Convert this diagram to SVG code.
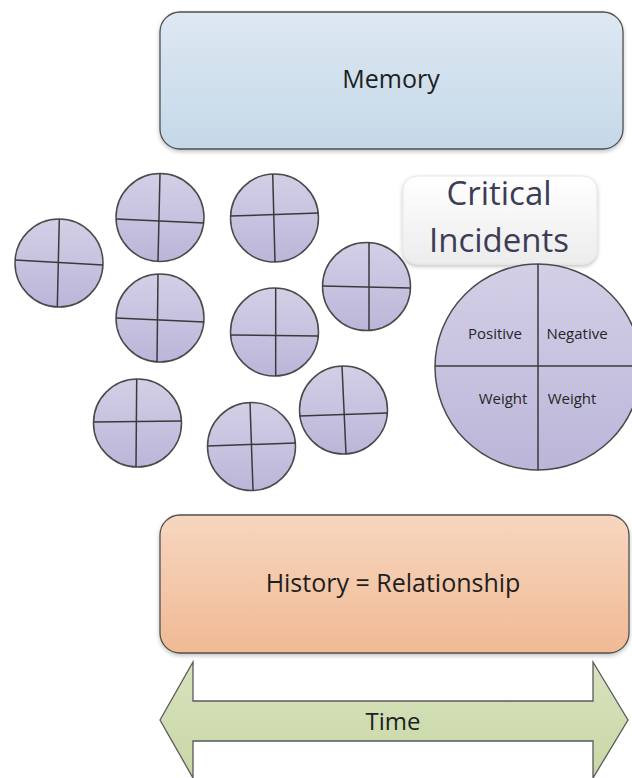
<svg xmlns="http://www.w3.org/2000/svg" width="632" height="778" viewBox="0 0 632 778">
<defs>
<linearGradient id="gBlue" x1="0" y1="0" x2="0" y2="1"><stop offset="0" stop-color="#dde8f2"/><stop offset="1" stop-color="#c5d8e8"/></linearGradient>
<linearGradient id="gPeach" x1="0" y1="0" x2="0" y2="1"><stop offset="0" stop-color="#f7d6bf"/><stop offset="1" stop-color="#f0ba94"/></linearGradient>
<linearGradient id="gGreen" x1="0" y1="0" x2="0" y2="1"><stop offset="0" stop-color="#d8e2bd"/><stop offset="1" stop-color="#c8d7a6"/></linearGradient>
<linearGradient id="gLav" x1="0" y1="0" x2="0" y2="1"><stop offset="0" stop-color="#d3cfe6"/><stop offset="1" stop-color="#bbb6d9"/></linearGradient>
<linearGradient id="gWhite" x1="0" y1="0" x2="0" y2="1"><stop offset="0" stop-color="#ffffff"/><stop offset="1" stop-color="#ececec"/></linearGradient>
<filter id="sh" x="-10%" y="-10%" width="120%" height="130%"><feGaussianBlur in="SourceAlpha" stdDeviation="2"/><feOffset dy="2"/><feComponentTransfer><feFuncA type="linear" slope="0.25"/></feComponentTransfer><feMerge><feMergeNode/><feMergeNode in="SourceGraphic"/></feMerge></filter>
</defs>
<style>
.box{stroke:#505050;stroke-width:1.3}
.c{fill:url(#gLav);stroke:#4a4a4a;stroke-width:1.5}
.ln{stroke:#3a3a3a;stroke-width:1.5;fill:none}
.lbl{font-family:"Open Sans","Liberation Sans",sans-serif;fill:#1e1e1e;text-anchor:middle}
.sm{font-family:"Open Sans","Liberation Sans",sans-serif;font-size:15px;fill:#262626;text-anchor:middle}
.ci{font-family:"Open Sans","Liberation Sans",sans-serif;font-size:33px;fill:#3c3c56;text-anchor:middle}
</style>
<rect width="632" height="778" fill="#ffffff"/>

<g id="memory">
<rect class="box" x="160" y="12" width="463" height="137" rx="20" fill="url(#gBlue)" filter="url(#sh)"/>
<text class="lbl" x="391" y="88" font-size="25">Memory</text>
</g>

<g id="incident1"><circle class="c" cx="59" cy="263" r="44"/><line class="ln" x1="59.3" y1="219" x2="57.3" y2="307"/><line class="ln" x1="15" y1="260" x2="103" y2="265"/></g>
<g id="incident2"><circle class="c" cx="160" cy="217.5" r="44"/><line class="ln" x1="160" y1="173.5" x2="158" y2="261.5"/><line class="ln" x1="116" y1="219" x2="204" y2="223"/></g>
<g id="incident3"><circle class="c" cx="274.5" cy="218" r="44"/><line class="ln" x1="272.7" y1="174" x2="275" y2="262"/><line class="ln" x1="230.5" y1="216" x2="318.5" y2="213"/></g>
<g id="incident4"><circle class="c" cx="160" cy="318" r="44"/><line class="ln" x1="158" y1="274" x2="157" y2="362"/><line class="ln" x1="116" y1="318" x2="204" y2="322"/></g>
<g id="incident5"><circle class="c" cx="274.5" cy="332" r="44"/><line class="ln" x1="275.7" y1="288" x2="275.7" y2="376"/><line class="ln" x1="230.5" y1="335" x2="318.5" y2="336"/></g>
<g id="incident6"><circle class="c" cx="366.5" cy="286.5" r="44"/><line class="ln" x1="369" y1="242.5" x2="369" y2="330.5"/><line class="ln" x1="322.5" y1="286" x2="410.5" y2="288"/></g>
<g id="incident7"><circle class="c" cx="137.5" cy="423" r="44"/><line class="ln" x1="136.7" y1="379" x2="136" y2="467"/><line class="ln" x1="93.5" y1="422" x2="181.5" y2="421"/></g>
<g id="incident8"><circle class="c" cx="251.5" cy="446.5" r="44"/><line class="ln" x1="250" y1="402.5" x2="253" y2="490.5"/><line class="ln" x1="207.5" y1="446" x2="295.5" y2="443"/></g>
<g id="incident9"><circle class="c" cx="343.5" cy="410" r="44"/><line class="ln" x1="342" y1="366" x2="346" y2="454"/><line class="ln" x1="299.5" y1="416" x2="387.5" y2="413"/></g>

<g id="critical-label">
<rect x="403" y="176" width="194" height="88" rx="14" fill="url(#gWhite)" stroke="#e6e6e6" stroke-width="1" filter="url(#sh)"/>
<text class="ci" x="499" y="205">Critical</text>
<text class="ci" x="499" y="252">Incidents</text>
</g>

<g id="critical-incident">
<circle class="c" cx="538" cy="367" r="103"/>
<line class="ln" x1="538" y1="264" x2="538" y2="470"/>
<line class="ln" x1="435" y1="366" x2="641" y2="366"/>
<text class="sm" x="495" y="339">Positive</text>
<text class="sm" x="577" y="339">Negative</text>
<text class="sm" x="503" y="404">Weight</text>
<text class="sm" x="572" y="404">Weight</text>
</g>

<g id="history">
<rect class="box" x="160" y="515" width="469" height="138" rx="20" fill="url(#gPeach)" filter="url(#sh)"/>
<text class="lbl" x="393" y="592" font-size="25">History = Relationship</text>
</g>

<g id="time">
<path d="M160,720 L193,662 L193,701 L593,701 L593,662 L628,720 L593,778 L593,741 L193,741 L193,778 Z" fill="url(#gGreen)" stroke="#5a5a5a" stroke-width="1.3" stroke-linejoin="miter"/>
<text class="lbl" x="393" y="730" font-size="24">Time</text>
</g>

<g id="connectors"/>
</svg>
